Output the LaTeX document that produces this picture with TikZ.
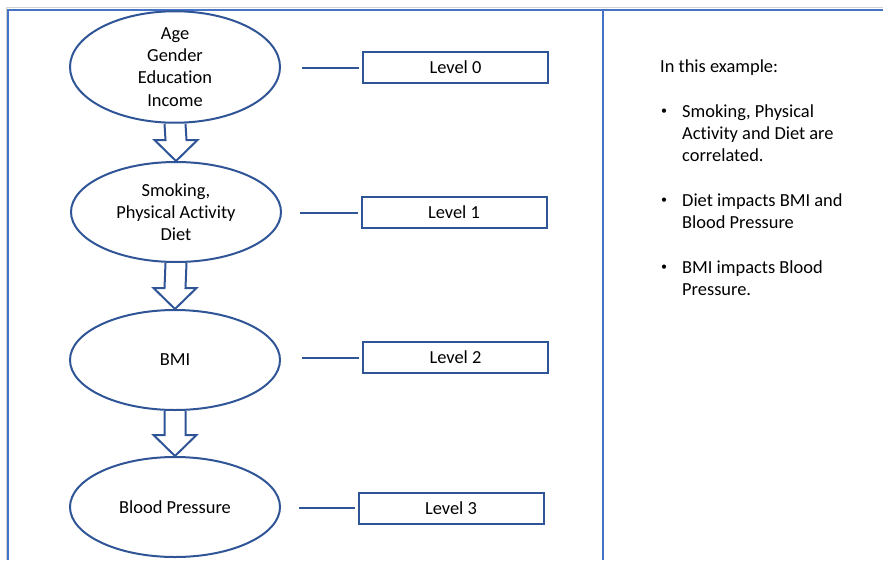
\documentclass[tikz,border=0pt]{standalone}
\usepackage{fontspec}
\setmainfont{Carlito}[Ligatures=NoCommon]
\usetikzlibrary{shapes.geometric, calc}
\definecolor{frameblue}{HTML}{4472C4}
\definecolor{shapeblue}{HTML}{2F5597}
\newcommand{\bodyfont}{\fontsize{18.4}{22.3}\selectfont}
% hollow arrow from the bottom of one ellipse to the top of the next
\newcommand{\hollowarrow}[2]{%
  \draw[bigarrow] ($(#1.south)+(-10.5,0)$) -- ($(#2.north)+(-10.5,-21)$)
    -- ($(#2.north)+(-21.5,-21)$) -- (#2.north) -- ($(#2.north)+(21.5,-21)$)
    -- ($(#2.north)+(10.5,-21)$) -- ($(#1.south)+(10.5,0)$);}

\begin{document}
\begin{tikzpicture}[x=1pt, y=-1pt,
    factor/.style={ellipse, draw=shapeblue, line width=2pt, minimum width=210pt,
      minimum height=100pt, inner sep=0pt, align=center, font=\bodyfont},
    levelbox/.style={rectangle, draw=shapeblue, line width=2pt, minimum width=185pt,
      minimum height=31pt, inner sep=0pt, font=\bodyfont},
    link/.style={shapeblue, line width=2pt, shorten >=3pt},
    bigarrow/.style={draw=shapeblue, line width=2pt, line join=miter},
    note/.style={anchor=base west, inner sep=0pt, font=\bodyfont},
    dot/.style={anchor=base, inner sep=0pt, font=\fontsize{12}{12}\selectfont}]
    \useasboundingbox (0,0) rectangle (883,560);

    % frame
    \draw[gray!35, line width=0.8pt] (6.3,560) -- (6.3,7.8) -- (883,7.8);
    \draw[frameblue, line width=2.4pt] (8,560) -- (8,10) -- (883,10);
    \draw[frameblue, line width=2.4pt] (603,10) -- (603,560);

    % levels of factors
    \node[factor] (e0) at (175,67) {Age\\Gender\\Education\\Income};
    \node[factor] (e1) at (176,212) {Smoking,\\Physical Activity\\Diet};
    \node[factor] (e2) at (175,360) {BMI};
    \node[factor] (e3) at (175,507) {Blood Pressure};

    \hollowarrow{e0}{e1}
    \hollowarrow{e1}{e2}
    \hollowarrow{e2}{e3}

    \node[levelbox] (lvl0) at (455.5,67.5) {Level 0};
    \node[levelbox] (lvl1) at (454,212.5) {Level 1};
    \node[levelbox] (lvl2) at (455.5,357.5) {Level 2};
    \node[levelbox] (lvl3) at (451,508) {Level 3};

    \coordinate (s0) at (302,67.5);
    \coordinate (s1) at (300,212.5);
    \coordinate (s2) at (302,357.5);
    \coordinate (s3) at (299,508);
    \draw[link] (s0) -- (lvl0);
    \draw[link] (s1) -- (lvl1);
    \draw[link] (s2) -- (lvl2);
    \draw[link] (s3) -- (lvl3);

    % explanation on the right
    \node[note] (intro) at (660,72.7) {In this example:};
    \node[dot] (d1) at (664,114) {•};
    \node[note] (t1a) at (682,117) {Smoking, Physical};
    \node[note] (t1b) at (682,139.3) {Activity and Diet are};
    \node[note] (t1c) at (682,161.6) {correlated.};
    \node[dot] (d2) at (664,203.2) {•};
    \node[note] (t2a) at (682,206.2) {Diet impacts BMI and};
    \node[note] (t2b) at (682,228.5) {Blood Pressure};
    \node[dot] (d3) at (664,270.1) {•};
    \node[note] (t3a) at (682,273.1) {BMI impacts Blood};
    \node[note] (t3b) at (682,295.4) {Pressure.};
\end{tikzpicture}
\end{document}
